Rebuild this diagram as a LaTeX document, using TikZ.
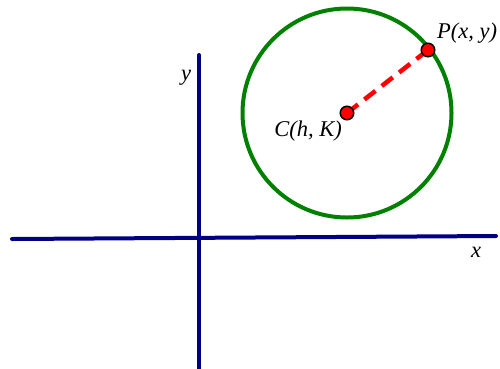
\documentclass[tikz,border=0pt]{standalone}
\usepackage{fontspec}
\setmainfont{Liberation Serif}
\usetikzlibrary{positioning}

\tikzset{every picture/.style={line width=0.75pt}}

\begin{document}
\begin{tikzpicture}[
            x=1pt,
            y=1pt,
            yscale=-1,
            xscale=1,
            every node/.style={text=black},
            axis/.style={draw={rgb,255:red,0;green,0;blue,128}, line width=4, line cap=round},
            ring/.style={draw={rgb,255:red,0;green,128;blue,0}, line width=4},
            radius line/.style={draw={rgb,255:red,255;green,0;blue,0}, line width=4.5, dash pattern=on 14 off 8},
            pt/.style={circle, draw=black, fill={rgb,255:red,255;green,0;blue,0}, line width=1.5, minimum size=13.5, inner sep=0},
            lbl/.style={font=\fontsize{22.5}{26}\selectfont\itshape, inner sep=0.75pt}
        ]
            \useasboundingbox (0,0) rectangle (500,368);

            % axes
            \coordinate (xl) at (12,239);
            \coordinate (xr) at (496,236);
            \coordinate (yt) at (199,55);
            \coordinate (yb) at (199,372);
            \draw [axis] (xl) -- (xr) ;
            \draw [axis] (yt) -- (yb) ;

            % circle of centre C through P
            \coordinate (c) at (347,113);
            \coordinate (p) at (428,50);
            \draw [ring] (c) circle (104.5) ;
            \draw [radius line] (c) -- (p) ;
            \node [pt] (C) at (c) {};
            \node [pt] (P) at (p) {};

            \node [lbl] (Clbl) at (308,131) {C(h, K)};
            \node [lbl] (Plbl) at (467,33) {P(x, y)};
            \node [lbl] (ylbl) at (186,78) {y};
            \node [lbl] (xlbl) at (476,252) {x};
        \end{tikzpicture}
\end{document}
